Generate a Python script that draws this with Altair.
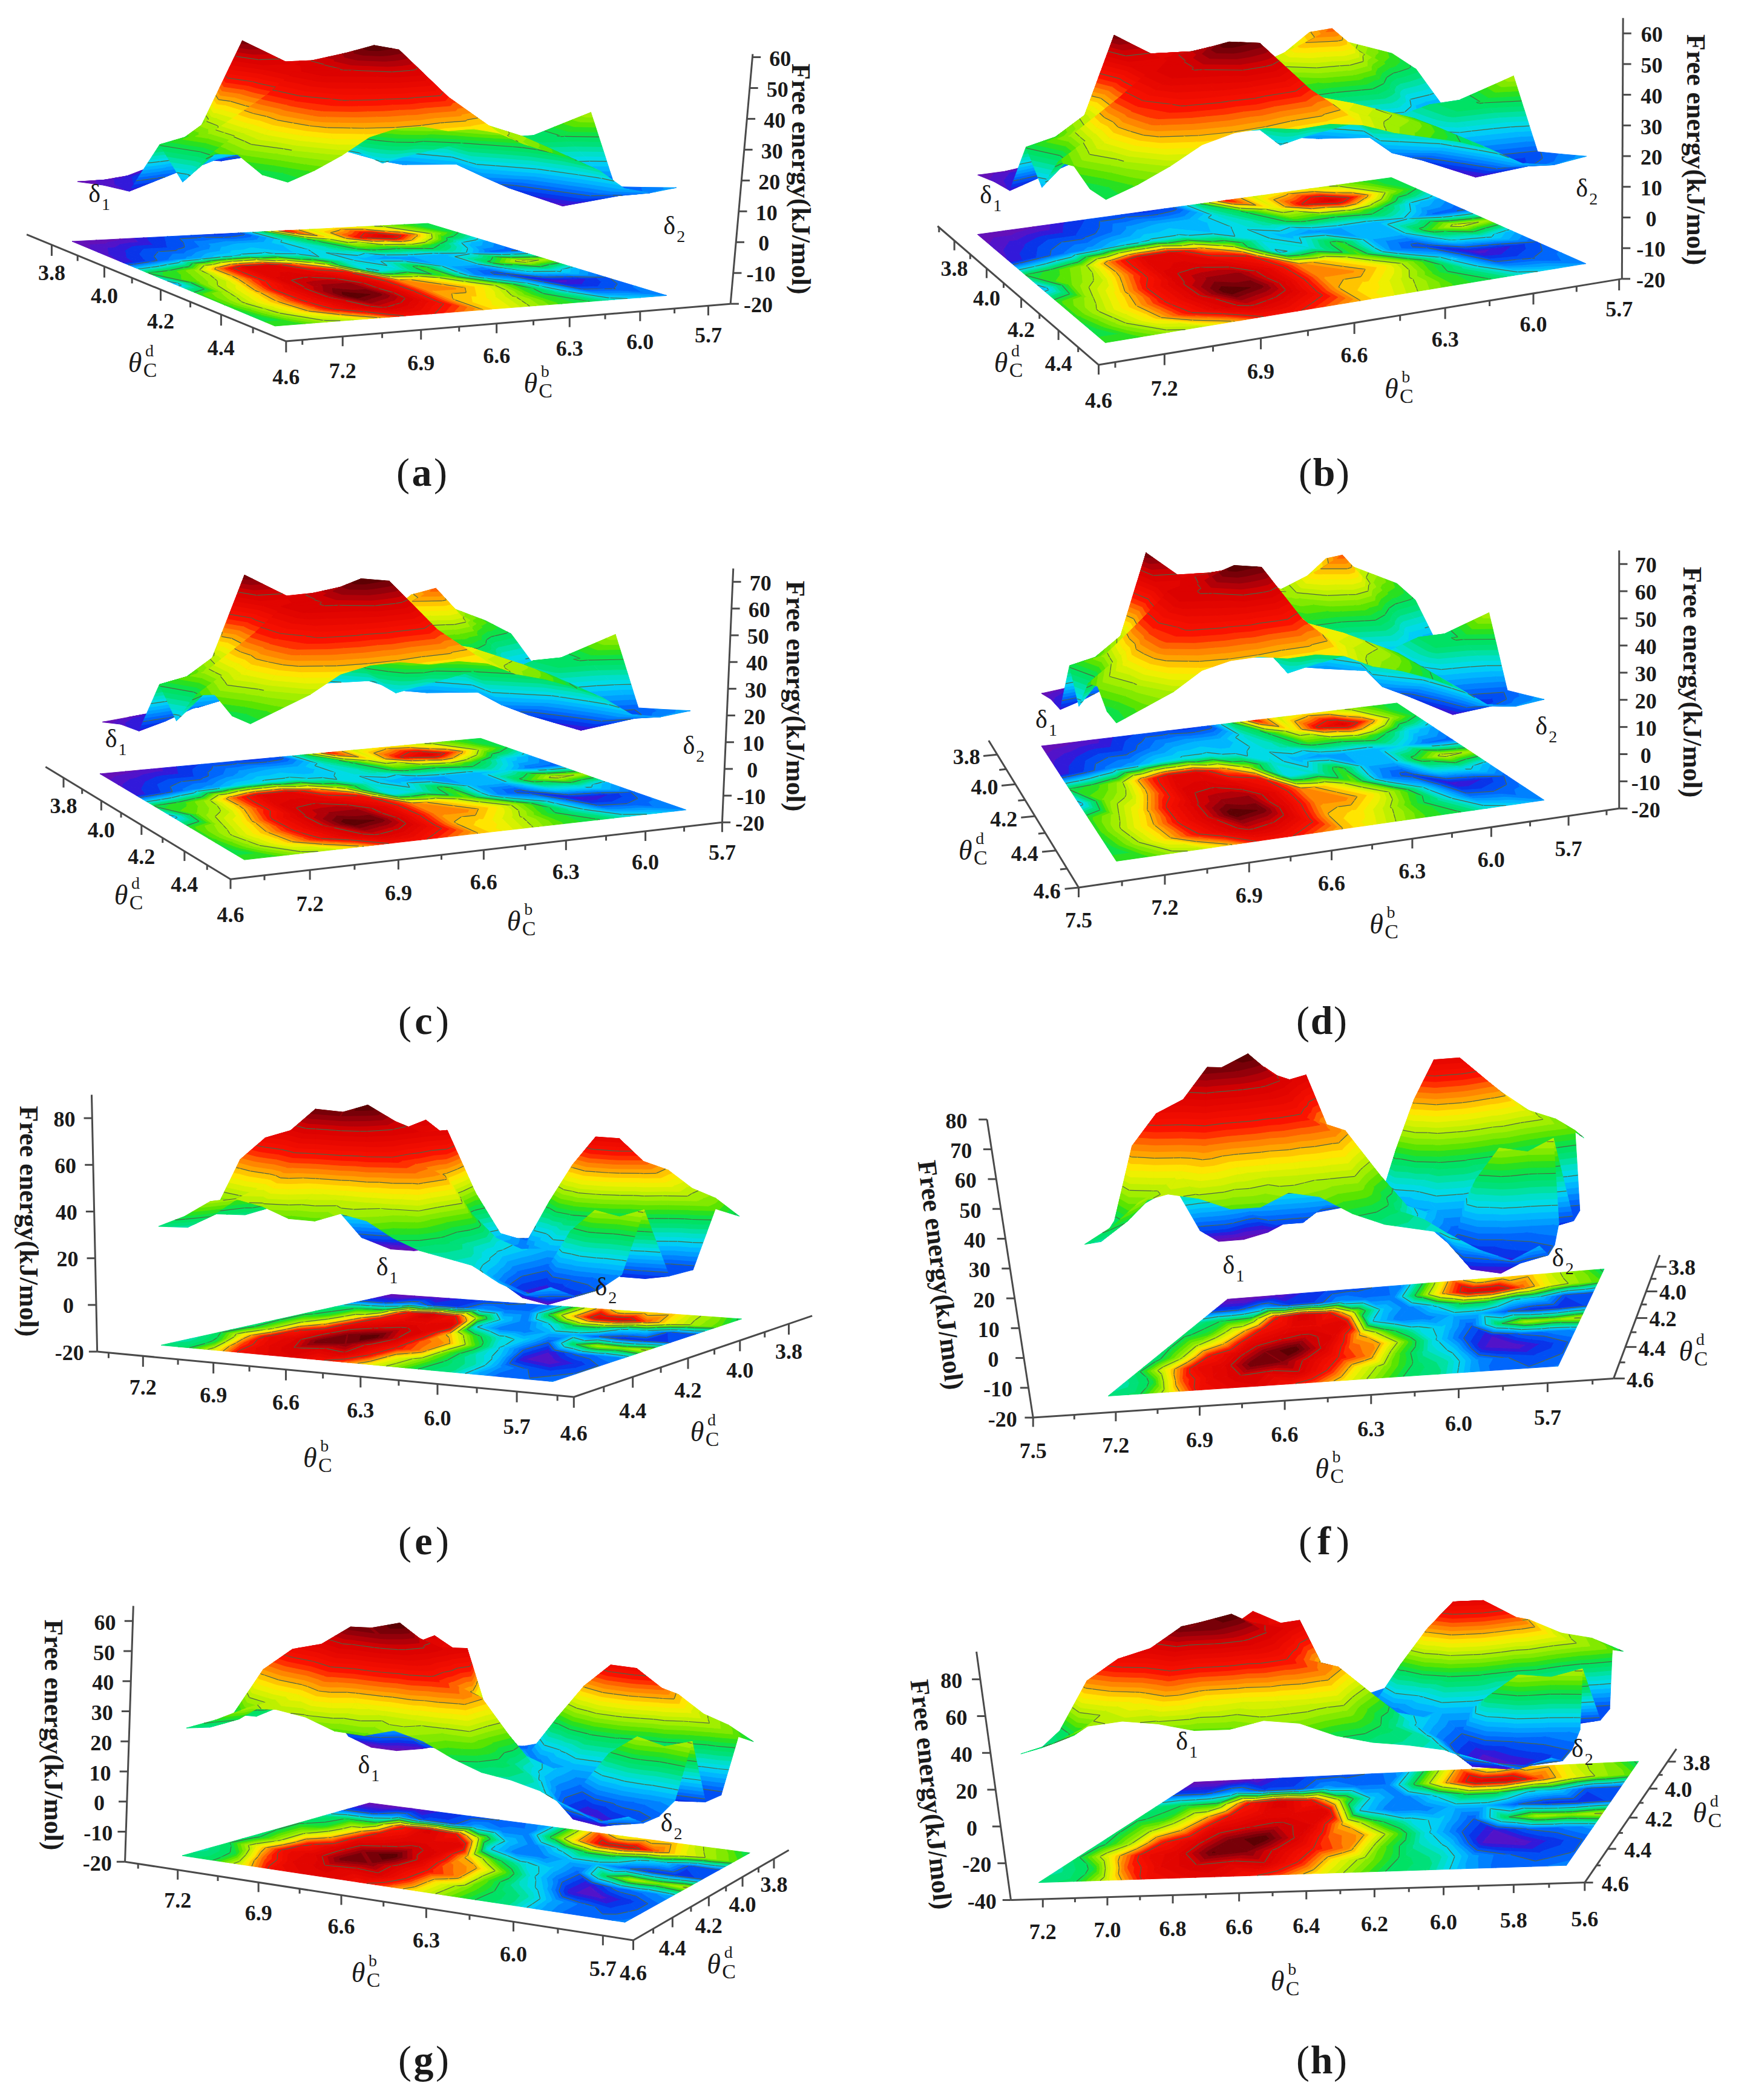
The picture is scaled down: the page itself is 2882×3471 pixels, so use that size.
import altair as alt

# ---------- free energy (kJ/mol); rows: theta_d back to front, cols: theta_b left to right
# SURF_* are read from the raised surfaces, FLOOR_* from the projected contour maps
SURF_AB = [
 [2,2,3,6,8,8,7,8,22,34,28,31,38,34,30,26],
 [4,6,8,8,10,13,14,14,18,24,30,38,42,32,26,23],
 [5,8,11,13,16,17,17,15,17,20,26,26,28,24,16,14],
 [24,26,32,58,50,49,40,28,18,14,12,14,14,16,10,9],
 [14,30,34,50,51,52,50,42,16,18,26,14,14,22,22,20],
 [26,32,44,51,52,56,56,46,36,30,24,12,8,22,24,31],
 [28,34,44,51,53,60,58,44,36,34,30,26,15,4,6,9],
 [24,30,42,46,48,50,50,44,36,32,30,26,20,10,9,11],
 [24,27,31,36,38,38,36,36,34,30,27,24,20,14,12,13]]
FLOOR_AB = [
 [2,2,3,6,8,8,7,8,22,45,33,36,34,30,26,24],
 [4,6,8,8,10,13,14,14,18,24,34,46,52,42,30,24],
 [5,8,11,13,16,17,17,15,17,20,26,26,28,24,16,13],
 [24,26,30,42,50,50,40,28,18,14,12,14,14,16,10,9],
 [14,28,32,42,51,52,50,46,16,18,26,14,14,26,33,30],
 [26,30,36,46,52,56,56,50,40,36,27,12,8,16,18,14],
 [26,32,38,46,52,60,58,50,40,40,36,28,15,4,6,9],
 [24,30,36,44,50,54,52,48,38,36,32,26,20,10,9,11],
 [26,26,30,32,38,46,46,42,38,34,30,26,24,18,15,12]]
SURF_CD = [
 [2,3,4,7,9,9,8,9,26,40,33,36,44,40,35,30],
 [5,7,9,9,12,15,16,16,21,28,35,44,49,37,30,27],
 [6,9,13,15,19,20,20,18,20,23,30,30,33,28,19,16],
 [28,30,37,68,58,57,47,33,21,16,14,16,16,19,12,11],
 [17,35,40,58,60,61,58,49,19,21,30,16,16,26,26,23],
 [30,37,51,60,61,65,65,54,42,35,28,14,9,26,28,36],
 [33,40,51,60,62,70,68,51,42,40,35,30,18,5,7,11],
 [28,35,49,54,56,58,58,51,42,37,35,30,23,12,11,13],
 [28,32,36,42,44,44,42,42,40,35,32,28,23,16,14,15]]
FLOOR_CD = [
 [2,3,4,7,9,9,8,9,26,52,38,42,40,35,30,28],
 [5,7,9,9,12,15,16,16,21,28,40,54,60,49,35,28],
 [6,9,13,15,19,20,20,18,20,23,30,30,33,28,19,15],
 [28,30,35,49,58,58,47,33,21,16,14,16,16,19,12,11],
 [17,33,37,49,60,61,58,54,19,21,30,16,16,30,38,35],
 [30,35,42,54,61,65,65,58,47,42,32,14,9,19,21,16],
 [30,37,44,54,61,70,68,58,47,47,42,33,18,5,7,11],
 [28,35,42,51,58,63,61,56,44,42,37,30,23,12,11,13],
 [30,30,35,37,44,54,54,49,44,40,35,30,28,21,18,14]]
SURF_EF = [
 [2,2,4,8,10,11,12,16,36,55,44,48,50,42,38,30],
 [10,10,16,10,10,16,14,14,34,52,66,66,56,46,40,36],
 [28,32,34,60,70,62,38,20,14,22,32,32,22,20,10,10],
 [30,34,46,62,66,66,68,22,14,14,18,18,12,8,8,10],
 [30,40,50,66,70,72,68,50,34,24,20,12,30,40,38,42],
 [28,40,60,68,76,80,70,56,52,36,22,12,6,12,14,16],
 [30,54,64,68,78,76,68,60,54,36,26,20,6,4,8,12],
 [26,32,40,46,56,46,42,42,40,38,30,26,16,12,10,12],
 [28,33,40,42,40,36,36,40,38,32,28,26,24,18,14,18]]
FLOOR_EF = [
 [2,2,4,8,10,11,12,16,36,55,44,48,50,42,38,30],
 [10,10,16,10,10,16,14,14,34,52,66,66,56,46,40,36],
 [28,32,34,60,70,62,38,20,14,22,32,32,22,20,10,10],
 [30,34,46,62,66,66,68,22,14,14,18,18,12,8,8,10],
 [30,40,50,66,70,72,68,50,34,24,20,12,30,40,38,42],
 [28,40,60,68,76,80,70,56,52,36,22,12,6,12,14,16],
 [30,46,64,68,78,76,68,60,54,36,26,20,6,4,8,12],
 [26,32,56,66,70,68,70,60,46,38,30,26,16,12,10,12],
 [28,30,44,62,66,68,62,56,46,38,30,28,18,12,12,14]]
SURF_G = [
 [1,1,3,6,7,8,9,12,26,40,32,35,36,30,27,22],
 [7,7,12,7,7,12,10,10,24,37,46,46,40,33,29,26],
 [20,23,24,43,50,45,27,14,10,16,23,23,16,14,7,7],
 [22,24,33,45,48,48,49,16,10,10,13,13,9,6,6,7],
 [22,29,36,48,50,52,49,36,24,17,14,9,22,29,27,30],
 [20,29,43,49,55,58,50,40,37,26,16,9,4,9,10,12],
 [22,38,46,49,56,55,49,43,39,26,19,14,4,3,6,9],
 [19,23,30,34,42,34,30,30,28,27,22,19,12,9,7,9],
 [20,24,29,30,29,26,26,29,27,23,20,19,17,13,10,13]]
FLOOR_G = [
 [1,1,3,6,7,8,9,12,26,40,32,35,36,30,27,22],
 [7,7,12,7,7,12,10,10,24,37,46,46,40,33,29,26],
 [20,23,24,43,50,45,27,14,10,16,23,23,16,14,7,7],
 [22,24,33,45,48,48,49,16,10,10,13,13,9,6,6,7],
 [22,29,36,48,50,52,49,36,24,17,14,9,22,29,27,30],
 [20,29,43,49,55,58,50,40,37,26,16,9,4,9,10,12],
 [22,33,46,49,56,55,49,43,39,26,19,14,4,3,6,9],
 [19,23,40,48,50,49,50,43,33,27,22,19,12,9,7,9],
 [20,22,32,45,48,49,45,40,33,27,22,20,13,9,9,10]]
SURF_H = [
 [-3,-3,-1,4,6,7,8,13,35,55,43,48,50,41,37,28],
 [6,6,13,6,6,13,10,10,32,52,68,68,57,46,39,35],
 [26,30,32,61,72,63,37,17,10,19,30,30,19,17,6,6],
 [28,32,46,63,68,68,70,19,10,10,15,15,8,4,4,6],
 [28,39,50,68,72,74,70,50,32,21,17,8,28,39,37,41],
 [26,39,61,70,79,83,72,57,52,35,19,8,1,8,10,13],
 [28,54,65,70,81,79,70,61,54,35,24,17,1,-1,4,8],
 [24,30,42,48,60,48,44,44,42,37,28,24,13,8,6,8],
 [26,31,39,41,39,35,35,39,37,30,26,24,21,15,10,15]]
FLOOR_H = [
 [-3,-3,-1,4,6,7,8,13,35,55,43,48,50,41,37,28],
 [6,6,13,6,6,13,10,10,32,52,68,68,57,46,39,35],
 [26,30,32,61,72,63,37,17,10,19,30,30,19,17,6,6],
 [28,32,46,63,68,68,70,19,10,10,15,15,8,4,4,6],
 [28,39,50,68,72,74,70,50,32,21,17,8,28,39,37,41],
 [26,39,61,70,79,83,72,57,52,35,19,8,1,8,10,13],
 [28,46,65,70,81,79,70,61,54,35,24,17,1,-1,4,8],
 [24,30,57,68,72,70,72,61,46,37,28,24,13,8,6,8],
 [26,28,44,63,67,69,63,56,46,37,28,26,15,9,9,11]]

JET_POS = [-1, -0.001, 0, .07, .15, .25, .33, .42, .5, .58, .64, .72, .88, 1]
JET_COL = ['#4d6645', '#4d6645', '#6a10b0', '#1c1ce0', '#0070ff', '#00d8f0', '#00e080', '#30e000',
           '#b0f000', '#fff000', '#ffa000', '#ff1400', '#d80000', '#500000']

W, H = 2866, 3455
XF = 0.918

PANELS = [
 dict(name='a', ox=0, oy=0, yf=.4586, grid=SURF_AB, floor=FLOOR_AB, centre=(697, 783),
      corners=[(130,870),(770,805),(1200,1065),(495,1175)],
      baxis=((515,1230),7.41,(1315,1095),5.6,.9), bticks=[7.2,6.9,6.6,6.3,6.0,5.7], bminor=.15, btick=(0,35), boff=((0,128),(0,108)),
      daxis=((48,845),3.7,(515,1230),4.6,1.17), dtick=(0,40), doff=((0,100),(0,130)),
      zaxis=((1315,1095),-20,(1355,195),61), zticks=list(range(-20,61,10)), ztick=(15,0), zoff=(50,7),
      ztitle=(1440,645,90), tb=(955,1385), td=(243,1310), d1=(170,700), d2=(1205,815)),
 dict(name='b', ox=1441, oy=0, yf=.4586, grid=SURF_AB, floor=FLOOR_AB, centre=(2188, 783),
      corners=[(190,845),(935,640),(1285,950),(420,1235)],
      baxis=((408,1315),7.4,(1350,1005),5.69,.92), bticks=[7.2,6.9,6.6,6.3,6.0,5.7], bminor=.15, btick=(0,40), boff=((0,129),(0,110)),
      daxis=((118,815),3.69,(408,1315),4.6,1.18), dtick=(0,35), doff=((0,100),(0,130)),
      zaxis=((1350,1005),-20,(1352,65),65), zticks=list(range(-20,61,10)), ztick=(15,0), zoff=(52,7),
      ztitle=(1482,540,90), tb=(935,1405), td=(232,1310), d1=(205,705), d2=(1278,680)),
 dict(name='c', ox=0, oy=880, yf=.4586, grid=SURF_CD, floor=FLOOR_CD, centre=(700, 1689),
      corners=[(180,870),(865,742),(1235,1000),(440,1180)],
      baxis=((415,1250),7.46,(1300,1045),5.7,.9), bticks=[7.2,6.9,6.6,6.3,6.0,5.7], bminor=.15, btick=(0,35), boff=((0,128),(0,110)),
      daxis=((82,845),3.7,(415,1250),4.6,1.16), dtick=(0,35), doff=((0,100),(0,130)),
      zaxis=((1300,1045),-20,(1320,130),75), zticks=list(range(-20,71,10)), ztick=(15,0), zoff=(50,7),
      ztitle=(1430,590,90), tb=(925,1405), td=(218,1310), d1=(200,745), d2=(1240,770)),
 dict(name='d', ox=1441, oy=880, yf=.4586, grid=SURF_CD, floor=FLOOR_CD, centre=(2184, 1689),
      corners=[(305,770),(945,615),(1210,965),(440,1185)],
      baxis=((372,1280),7.5,(1345,995),5.5,.93), bticks=[7.5,7.2,6.9,6.6,6.3,6.0,5.7], bminor=.15, btick=(0,35), boff=((0,120),(0,120)),
      daxis=((210,750),3.7,(372,1280),4.6,1.18), dtick=(-25,5), doff=((-55,10),(-57,15)),
      zaxis=((1345,995),-20,(1345,65),75), zticks=list(range(-20,71,10)), ztick=(15,0), zoff=(48,7),
      ztitle=(1475,540,90), tb=(908,1415), td=(168,1150), d1=(305,675), d2=(1205,700)),
 dict(name='e', ox=0, oy=1700, yf=.5096, grid=SURF_EF, floor=FLOOR_EF, centre=(700, 2549),
      corners=[(705,862),(1335,942),(995,1145),(290,1027)],
      baxis=((175,1048),7.4,(1033,1195),5.49,1.1), bticks=[7.2,6.9,6.6,6.3,6.0,5.7], bminor=.15, btick=(0,35), boff=((0,103),(0,118)),
      daxis=((1462,932),3.7,(1033,1195),4.6,1.15), dtick=(0,35), doff=((0,90),(0,120)),
      zaxis=((175,1048),-20,(165,215),90), zticks=list(range(-20,81,20)), ztick=(-15,0), zoff=(-50,5),
      ztitle=(50,625,90), tb=(558,1395), td=(1255,1310), d1=(688,775), d2=(1082,840)),
 dict(name='f', ox=1441, oy=1700, yf=.5096, grid=SURF_EF, floor=FLOOR_EF, centre=(2188, 2549),
      corners=[(640,878),(1318,780),(1235,1095),(425,1192)],
      baxis=((290,1262),7.5,(1335,1135),5.48,1.05), bticks=[7.5,7.2,6.9,6.6,6.3,6.0,5.7], bminor=.15, btick=(0,30), boff=((0,110),(0,115)),
      daxis=((1418,735),3.7,(1335,1135),4.6,1.2), dtick=(20,0), doff=((48,3),(48,8)),
      zaxis=((290,1262),-20,(207,295),80), zticks=list(range(-20,81,10)), ztick=(-15,0), zoff=(-55,7),
      ztitle=(122,800,83), tb=(810,1430), td=(1465,1050), d1=(642,770), d2=(1235,745)),
 dict(name='g', ox=0, oy=2620, yf=.4586, grid=SURF_G, floor=FLOOR_G, centre=(700, 3407),
      corners=[(665,785),(1350,965),(1125,1215),(328,975)],
      baxis=((225,997),7.4,(1140,1280),5.6,1.08), bticks=[7.2,6.9,6.6,6.3,6.0,5.7], bminor=.15, btick=(0,35), boff=((0,110),(0,122)),
      daxis=((1420,955),3.7,(1140,1280),4.6,1.18), dtick=(0,35), doff=((0,94),(0,120)),
      zaxis=((225,997),-20,(240,75),65), zticks=list(range(-20,61,10)), ztick=(-15,0), zoff=(-50,8),
      ztitle=(95,540,90), tb=(645,1400), td=(1285,1370), d1=(655,650), d2=(1200,860)),
 dict(name='h', ox=1441, oy=2620, yf=.4586, grid=SURF_H, floor=FLOOR_H, centre=(2184, 3407),
      corners=[(580,710),(1380,635),(1250,1010),(300,1072)],
      baxis=((250,1135),7.3,(1283,1072),5.6,1.06), bticks=[7.2,7.0,6.8,6.6,6.4,6.2,6.0,5.8,5.6], bminor=.1, btick=(0,30), boff=((0,119),(0,133)),
      daxis=((1448,590),3.7,(1283,1072),4.6,1.18), dtick=(15,0), doff=((52,6),(55,8)),
      zaxis=((250,1135),-40,(188,240),95), zticks=list(range(-40,81,20)), ztick=(-15,0), zoff=(-52,8),
      ztitle=(105,755,84), tb=(730,1430), td=(1490,825), d1=(558,565), d2=(1270,590)),
]

BANDS = 40
CONTOURS = 7

features, rules, ticklabels, ztitles, thetas, csubs, sups, deltas, dsubs, paren, letters = [], [], [], [], [], [], [], [], [], [], []


def clip(poly, level, keep_above):
    out = []
    n = len(poly)
    for i in range(n):
        a, b = poly[i], poly[(i + 1) % n]
        ia = a[2] >= level if keep_above else a[2] <= level
        ib = b[2] >= level if keep_above else b[2] <= level
        if ia:
            out.append(a)
        if ia != ib:
            t = (level - a[2]) / (b[2] - a[2])
            out.append((a[0] + t * (b[0] - a[0]), a[1] + t * (b[1] - a[1]), level))
    return out


def emit_tri(tri, vmin, vmax, feats):
    lo_v, hi_v = min(p[2] for p in tri), max(p[2] for p in tri)
    step = (vmax - vmin) / BANDS
    for k in range(BANDS):
        lo, hi = vmin + k * step, vmin + (k + 1) * step
        if hi < lo_v or lo > hi_v:
            continue
        poly = clip(clip(tri, lo, True), hi, False)
        if len(poly) < 3:
            continue
        ring = [[round(p[0], 1), round(p[1], 1)] for p in poly]
        ring.append(ring[0])
        feats.append(dict(type='Feature', geometry=dict(type='Polygon', coordinates=[ring]),
                          properties=dict(n=round((k + .5) / BANDS, 3), w=1.0)))


def emit_lines(tri, levels, feats):
    for lv in levels:
        pts = []
        for i in range(3):
            a, b = tri[i], tri[(i + 1) % 3]
            if (a[2] - lv) * (b[2] - lv) < 0:
                t = (lv - a[2]) / (b[2] - a[2])
                pts.append([round(a[0] + t * (b[0] - a[0]), 1), round(a[1] + t * (b[1] - a[1]), 1)])
        if len(pts) == 2:
            feats.append(dict(type='Feature', geometry=dict(type='LineString', coordinates=pts),
                              properties=dict(n=-1, w=1.2)))


for P in PANELS:
    T = lambda p, P=P: (P['ox'] + p[0] * XF - 8, P['oy'] + p[1] * P['yf'] - 8)
    grid, floor_grid = P['grid'], P['floor']
    nr, nc = len(grid), len(grid[0])
    vals = [v for r in grid for v in r] + [v for r in floor_grid for v in r]
    vmin, vmax = min(vals), max(vals)
    levels = [vmin + (vmax - vmin) * (i + 1) / (CONTOURS + 1) for i in range(CONTOURS)]
    BL, BR, FR, FL = [T(c) for c in P['corners']]
    zb, zbv, zt, ztv = P['zaxis']
    zb, zt = T(zb), T(zt)
    zdx, zdy = (zt[0] - zb[0]) / (ztv - zbv), (zt[1] - zb[1]) / (ztv - zbv)

    def base(r, c):
        u, v = c / (nc - 1), r / (nr - 1)
        lx, ly = BL[0] + v * (FL[0] - BL[0]), BL[1] + v * (FL[1] - BL[1])
        rx, ry = BR[0] + v * (FR[0] - BR[0]), BR[1] + v * (FR[1] - BR[1])
        return lx + u * (rx - lx), ly + u * (ry - ly)

    def surf(r, c):
        x, y = base(r, c)
        f = .88 + .18 * r / (nr - 1)
        e = grid[r][c] - zbv
        return x + e * zdx * f, y + e * zdy * f, grid[r][c]

    def flr(r, c):
        x, y = base(r, c)
        return x, y, floor_grid[r][c]

    cells = sorted([(r, c) for r in range(nr - 1) for c in range(nc - 1)],
                   key=lambda rc: sum(base(rc[0] + i, rc[1] + j)[1] for i in (0, 1) for j in (0, 1)))
    for fn in (flr, surf):
        for r, c in cells:
            a, b, d, e = fn(r, c), fn(r, c + 1), fn(r + 1, c + 1), fn(r + 1, c)
            for tri in ((a, b, d), (a, d, e)):
                emit_tri(tri, vmin, vmax, features)
                emit_lines(tri, levels, features)

    def proj(axis, v):
        p0, v0, p1, v1, w = axis
        t = (v - v0) / (v1 - v0)
        s = t / (t + w * (1 - t))
        return (p0[0] + s * (p1[0] - p0[0]), p0[1] + s * (p1[1] - p0[1])), s

    def add_rule(p, q, w=3.0):
        a, b = T(p), T(q)
        rules.append(dict(x=a[0], y=a[1], x2=b[0], y2=b[1], w=w))

    for key, tick, off, majors, minor in (
        ('baxis', P['btick'], P['boff'], P['bticks'], P['bminor']),
        ('daxis', P['dtick'], P['doff'], [3.8, 4.0, 4.2, 4.4, 4.6], .1),
    ):
        ax = P[key]
        add_rule(ax[0], ax[2])
        for m in majors:
            pos, s = proj(ax, m)
            add_rule(pos, (pos[0] + tick[0], pos[1] + tick[1]))
            lab = (pos[0] + off[0][0] + s * (off[1][0] - off[0][0]), pos[1] + off[0][1] + s * (off[1][1] - off[0][1]))
            lx, ly = T(lab)
            ticklabels.append(dict(x=lx, y=ly, t=f'{m:.1f}'))
        lo, hi = min(ax[1], ax[3]), max(ax[1], ax[3])
        m = min(majors) - minor
        while m <= hi + 1e-6:
            if lo < m < hi:
                pos, s = proj(ax, m)
                add_rule(pos, (pos[0] + tick[0] * .5, pos[1] + tick[1] * .5))
            m += 2 * minor
    p0, v0, p1, v1 = P['zaxis']
    add_rule(p0, p1)
    for m in P['zticks']:
        s = (m - v0) / (v1 - v0)
        pos = (p0[0] + s * (p1[0] - p0[0]), p0[1] + s * (p1[1] - p0[1]))
        add_rule(pos, (pos[0] + P['ztick'][0], pos[1] + P['ztick'][1]))
        lx, ly = T((pos[0] + P['zoff'][0], pos[1] + P['zoff'][1]))
        ticklabels.append(dict(x=lx, y=ly, t=str(m)))

    zx, zy = T(P['ztitle'][:2])
    ztitles.append(dict(x=zx, y=zy, a=P['ztitle'][2], t='Free energy(kJ/mol)'))
    for pos, sup in ((P['tb'], 'b'), (P['td'], 'd')):
        x, y = T(pos)
        thetas.append(dict(x=x, y=y, t='θ'))
        csubs.append(dict(x=x + 25, y=y + 12, t='C'))
        sups.append(dict(x=x + 24, y=y - 20, t=sup))
    for pos, lab in ((P['d1'], '1'), (P['d2'], '2')):
        x, y = T(pos)
        deltas.append(dict(x=x, y=y, t='δ'))
        dsubs.append(dict(x=x + 19, y=y + 18, t=lab))
    cx, cy = P['centre']
    paren.append(dict(x=cx - 31 - 8, y=cy - 8, t='('))
    paren.append(dict(x=cx + 31 - 8, y=cy - 8, t=')'))
    letters.append(dict(x=cx - 8, y=cy - 8, t=P['name']))

X = alt.X('x:Q', scale=alt.Scale(domain=[0, W], range=[0, W]), axis=None)
Y = alt.Y('y:Q', scale=alt.Scale(domain=[0, H], range=[0, H]), axis=None)

surface = alt.Chart(alt.Data(values=features)).mark_geoshape().encode(
    fill=alt.Fill('properties.n:Q', scale=alt.Scale(domain=JET_POS, range=JET_COL), legend=None),
    stroke=alt.Stroke('properties.n:Q', scale=alt.Scale(domain=JET_POS, range=JET_COL), legend=None),
    strokeWidth=alt.StrokeWidth('properties.w:Q', scale=None),
).project(type='identity', scale=1, translate=[0, 0])

axes = alt.Chart(alt.Data(values=rules)).mark_rule(color='#4a4a4a').encode(
    x=X, y=Y, x2='x2:Q', y2='y2:Q', strokeWidth=alt.StrokeWidth('w:Q', scale=None))


def text_layer(rows, size, weight='normal', style='normal', font='Liberation Serif'):
    return alt.Chart(alt.Data(values=rows)).mark_text(
        font=font, fontSize=size, fontWeight=weight, fontStyle=style, color='#1a1a1a',
        align='center', baseline='middle').encode(x=X, y=Y, text='t:N')


ztitle = alt.Chart(alt.Data(values=ztitles)).mark_text(
    font='Liberation Serif', fontSize=44, fontWeight='bold', color='#1a1a1a',
    align='center', baseline='middle').encode(x=X, y=Y, text='t:N', angle=alt.Angle('a:Q', scale=None))

chart = alt.layer(
    surface, axes,
    text_layer(ticklabels, 36, 'bold'),
    ztitle,
    text_layer(thetas, 46, style='italic'),
    text_layer(csubs, 34),
    text_layer(sups, 28),
    text_layer(deltas, 42),
    text_layer(dsubs, 28),
    text_layer(paren, 66),
    text_layer(letters, 66, 'bold'),
).resolve_scale(x='shared', y='shared').properties(
    width=W, height=H, padding=0, autosize=alt.AutoSizeParams(type='none')
).configure_view(stroke=None)

chart.save('out.html', embed_options={'renderer': 'svg', 'actions': False})
